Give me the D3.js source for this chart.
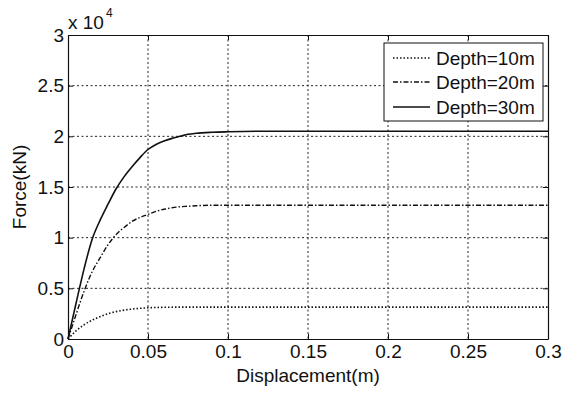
<!DOCTYPE html>
<html><head><meta charset="utf-8">
<script src="https://cdn.jsdelivr.net/npm/d3@7"></script>
<style>
body{margin:0;background:#fff;}
text{font-family:"Liberation Sans",Arial,sans-serif;fill:#111;}
</style></head><body>
<svg id="c" width="566" height="394"></svg>
<script>
const xValues = [0, 0.005, 0.01, 0.015, 0.02, 0.025, 0.03, 0.035, 0.04, 0.045, 0.05, 0.055, 0.06, 0.065, 0.07, 0.075, 0.08, 0.09, 0.1, 0.12, 0.15, 0.2, 0.25, 0.3];
const depth10 = [0, 800, 1400, 1850, 2200, 2500, 2700, 2850, 2950, 3030, 3080, 3110, 3130, 3140, 3150, 3150, 3150, 3150, 3150, 3150, 3150, 3150, 3150, 3150];
const depth20 = [0, 2400, 4700, 6600, 8000, 9300, 10300, 11000, 11600, 12000, 12300, 12600, 12800, 12950, 13050, 13100, 13150, 13200, 13200, 13200, 13200, 13200, 13200, 13200];
const depth30 = [0, 3500, 6900, 9800, 11700, 13300, 14800, 16000, 17000, 17900, 18700, 19200, 19550, 19800, 20000, 20200, 20300, 20400, 20450, 20500, 20500, 20500, 20500, 20500];
const seriesNames = ["Depth=10m", "Depth=20m", "Depth=30m"];
const xTicks = [0, 0.05, 0.1, 0.15, 0.2, 0.25, 0.3];
const xTickLabels = ["0", "0.05", "0.1", "0.15", "0.2", "0.25", "0.3"];
const yTicks = [0, 5000, 10000, 15000, 20000, 25000, 30000];
const yTickLabels = ["0", "0.5", "1", "1.5", "2", "2.5", "3"];

const FS = 19;
const svg = d3.select("#c");
const L = 68, R = 548, T = 35, B = 339;
const x = d3.scaleLinear().domain([0, 0.3]).range([L, R]);
const y = d3.scaleLinear().domain([0, 30000]).range([B, T]);

// grid
const g = svg.append("g");
g.selectAll(".gx").data(xTicks.slice(1, -1)).join("line")
  .attr("x1", d => x(d)).attr("x2", d => x(d)).attr("y1", T).attr("y2", B)
  .attr("stroke", "#222").attr("stroke-width", 1).attr("stroke-dasharray", "2,2.5");
g.selectAll(".gy").data(yTicks.slice(1, -1)).join("line")
  .attr("y1", d => y(d)).attr("y2", d => y(d)).attr("x1", L).attr("x2", R)
  .attr("stroke", "#222").attr("stroke-width", 1).attr("stroke-dasharray", "2,2.5");

// axes
const fmtX = (d, i) => xTickLabels[i];
const fmtY = (d, i) => yTickLabels[i];
const axB = svg.append("g").attr("transform", `translate(0,${B})`)
  .call(d3.axisBottom(x).tickValues(xTicks).tickFormat(fmtX).tickSizeInner(-5).tickSizeOuter(0).tickPadding(6));
const axT = svg.append("g").attr("transform", `translate(0,${T})`)
  .call(d3.axisTop(x).tickValues(xTicks).tickFormat("").tickSizeInner(-5).tickSizeOuter(0));
const axL = svg.append("g").attr("transform", `translate(${L},0)`)
  .call(d3.axisLeft(y).tickValues(yTicks).tickFormat(fmtY).tickSizeInner(-5).tickSizeOuter(0).tickPadding(4));
const axR = svg.append("g").attr("transform", `translate(${R},0)`)
  .call(d3.axisRight(y).tickValues(yTicks).tickFormat("").tickSizeInner(-5).tickSizeOuter(0));
[axB, axT, axL, axR].forEach(a => {
  a.attr("font-size", FS).attr("font-family", "Liberation Sans, Arial, sans-serif");
  a.select(".domain").attr("stroke", "#111").attr("stroke-width", 1.2);
  a.selectAll(".tick line").attr("stroke", "#111");
  a.selectAll("text").attr("fill", "#111");
});

// exponent
svg.append("text").attr("x", 68).attr("y", 29).attr("font-size", FS).text("x 10");
svg.append("text").attr("x", 106).attr("y", 17).attr("font-size", 12).text("4");

// axis labels
svg.append("text").attr("x", (L + R) / 2).attr("y", 382).attr("text-anchor", "middle").attr("font-size", FS).text("Displacement(m)");
svg.append("text").attr("transform", `translate(26,${(T + B) / 2}) rotate(-90)`).attr("text-anchor", "middle").attr("font-size", FS).text("Force(kN)");

// lines
const styles = [
  {data: depth10, dash: "1.5,2", w: 1.6},
  {data: depth20, dash: "5,2,1.5,2", w: 1.4},
  {data: depth30, dash: null, w: 1.6}
];
const line = d3.line().x(d => x(d[0])).y(d => y(d[1])).curve(d3.curveMonotoneX);
styles.forEach(s => {
  svg.append("path").datum(xValues.map((xv, i) => [xv, s.data[i]]))
    .attr("d", line).attr("fill", "none").attr("stroke", "#111")
    .attr("stroke-width", s.w).attr("stroke-dasharray", s.dash);
});

// legend
const lg = svg.append("g");
lg.append("rect").attr("x", 384).attr("y", 43).attr("width", 159).attr("height", 78)
  .attr("fill", "#fff").attr("stroke", "#111").attr("stroke-width", 1);
const ly = [58, 82, 107];
seriesNames.forEach((n, i) => {
  lg.append("line").attr("x1", 393).attr("x2", 430).attr("y1", ly[i]).attr("y2", ly[i])
    .attr("stroke", "#111").attr("stroke-width", styles[i].w).attr("stroke-dasharray", styles[i].dash);
  lg.append("text").attr("x", 436).attr("y", ly[i] + 7).attr("font-size", FS).text(n);
});
</script>
</body></html>
